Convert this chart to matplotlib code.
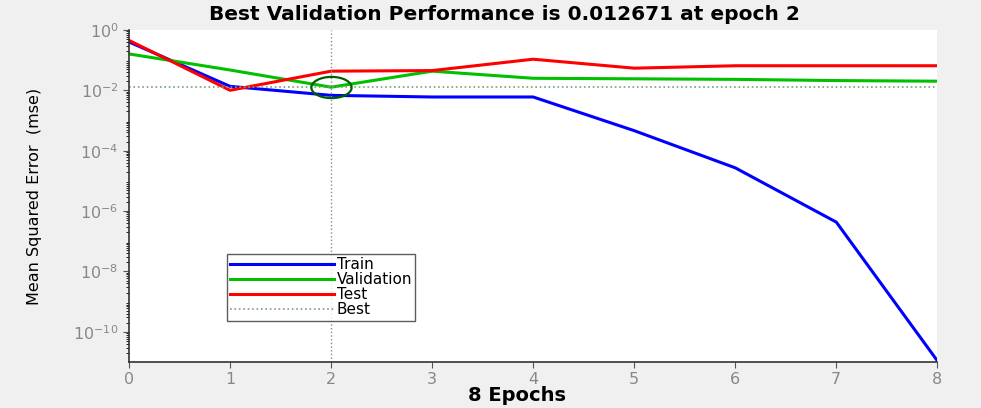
import numpy as np
import matplotlib.pyplot as plt
from matplotlib.path import Path
from matplotlib.ticker import LogLocator, FixedLocator

plt.rcParams["font.family"] = ["DejaVu Sans"]

# values (log-scale mse per epoch)
epochs = [0, 1, 2, 3, 4, 5, 6, 7, 8]
train_mse = [0.40, 0.0135, 0.0068, 0.0060, 0.0060, 4.6e-4, 2.7e-5, 4.3e-7, 1.1e-11]
val_mse = [0.16, 0.047, 0.012671, 0.043, 0.025, 0.024, 0.023, 0.021, 0.020]
test_mse = [0.45, 0.010, 0.043, 0.045, 0.107, 0.054, 0.065, 0.065, 0.065]
best_epoch = 2
best_perf = 0.012671
ytick_vals = [1e0, 1e-2, 1e-4, 1e-6, 1e-8, 1e-10]
ytick_labels = [r"$10^{0}$", r"$10^{-2}$", r"$10^{-4}$", r"$10^{-6}$", r"$10^{-8}$", r"$10^{-10}$"]

fig = plt.figure(figsize=(9.81, 4.08), dpi=100, facecolor="#f0f0f0")
ax = fig.add_axes([0.1315, 0.1127, 0.824, 0.814])
ax.set_facecolor("white")

ax.semilogy(epochs, train_mse, color="#0000ff", lw=2.2, label="Train")
ax.semilogy(epochs, val_mse, color="#00c000", lw=2.2, label="Validation")
ax.semilogy(epochs, test_mse, color="#ff0000", lw=2.2, label="Test")
ax.axhline(best_perf, color="#7aa07a", ls=":", lw=1.2, label="Best")
ax.axvline(best_epoch, color="#8a8a8a", ls=":", lw=1.0)

# the best-epoch circle looks stretched into an ellipse in the reference
t = np.linspace(0, 2 * np.pi, 60)
ellipse = Path(np.column_stack([1.9 * np.cos(t), np.sin(t)]))
ax.plot([best_epoch], [best_perf], marker=ellipse, ms=29, mfc="none",
        mec="#006000", mew=1.6, ls="none")

ax.set_xlim(0, 8)
ax.set_ylim(1e-11, 1)
ax.set_xticks(epochs)
ax.yaxis.set_major_locator(FixedLocator(ytick_vals))
ax.set_yticklabels(ytick_labels)
ax.yaxis.set_minor_locator(LogLocator(base=10, subs=np.arange(2, 10), numticks=30))
ax.tick_params(axis="both", colors="#555555", labelsize=11.5, length=4)
ax.tick_params(axis="y", which="minor", length=2)
ax.tick_params(labelcolor="#888888")

for side in ["top", "right"]:
    ax.spines[side].set_visible(False)
for side in ["left", "bottom"]:
    ax.spines[side].set_color("#333333")
    ax.spines[side].set_linewidth(1.2)

ax.set_title("Best Validation Performance is 0.012671 at epoch 2",
             fontsize=14.5, fontweight="bold", pad=7)
ax.title.set_x(0.465)
ax.set_xlabel("8 Epochs", fontsize=14, fontweight="bold", labelpad=2)
ax.xaxis.set_label_coords(0.48, -0.072)
ax.set_ylabel("Mean Squared Error  (mse)", fontsize=11.5)
ax.yaxis.set_label_coords(-0.108, 0.5)

leg = ax.legend(loc="lower left", bbox_to_anchor=(0.121, 0.125), fontsize=11,
                frameon=True, fancybox=False, handlelength=6.8, handletextpad=0.2,
                borderpad=0.2, labelspacing=0.0, borderaxespad=0)
leg.get_frame().set_edgecolor("#333333")
leg.get_frame().set_linewidth(1.0)

fig.savefig("out.png", dpi=100, facecolor=fig.get_facecolor())
